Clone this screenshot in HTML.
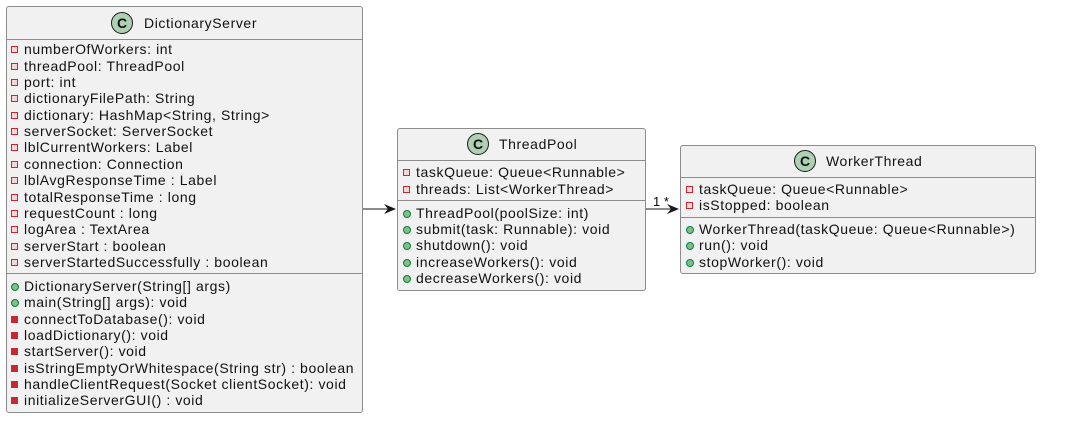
<!DOCTYPE html>
<html><head><meta charset="utf-8"><style>
body{margin:0;width:1069px;height:441px;background:#fff;position:relative;overflow:hidden;font-family:"Liberation Sans",sans-serif;color:#111}
.box{position:absolute;background:#f1f1f1;border:1px solid #8c8c8c;border-radius:3px;box-sizing:border-box}
.sep{position:absolute;left:0;right:0;height:0;border-top:1px solid #8c8c8c}
.t{position:absolute;font-size:14px;letter-spacing:0.6px;white-space:nowrap;line-height:16px}
.ti{position:absolute;font-size:14px;letter-spacing:0.6px;white-space:nowrap;line-height:18px}
.c{position:absolute;width:20px;height:20px;border-radius:50%;background:#add1b2;border:1px solid #181818;font-weight:bold;font-size:14px;line-height:20px;text-align:center}
.pa{position:absolute;width:5px;height:5px;border:1px solid #c82930;background:#f3d6d7}
.pm{position:absolute;width:7px;height:7px;background:#c82930}
.pu{position:absolute;width:6px;height:6px;border-radius:50%;background:#84be84;border:1px solid #038048}
</style></head><body>

<div class="box" style="left:6px;top:6px;width:357px;height:407px">
<div class="c" style="left:104px;top:5px">C</div>
<div class="ti" style="left:137px;top:7px">DictionaryServer</div>
<div class="sep" style="top:32px"></div>
<div class="sep" style="top:266px"></div>
</div>

<div class="box" style="left:397px;top:128px;width:249px;height:163px">
<div class="c" style="left:69px;top:4px">C</div>
<div class="ti" style="left:101px;top:6px">ThreadPool</div>
<div class="sep" style="top:31px"></div>
<div class="sep" style="top:71px"></div>
</div>

<div class="box" style="left:680px;top:145px;width:356px;height:129px">
<div class="c" style="left:113px;top:4px">C</div>
<div class="ti" style="left:145px;top:6px">WorkerThread</div>
<div class="sep" style="top:31px"></div>
<div class="sep" style="top:71px"></div>
</div>

<svg style="position:absolute;left:0;top:0" width="1069" height="441">
<line x1="363" y1="209" x2="394" y2="209" stroke="#181818" stroke-width="1"/>
<path d="M384,204 L396,209 L384,214 L388,209 Z" fill="#181818"/>
<line x1="646" y1="209" x2="677" y2="209" stroke="#181818" stroke-width="1"/>
<path d="M667,204 L679,209 L667,214 L671,209 Z" fill="#181818"/>
<text x="653" y="206" font-family="Liberation Sans" font-size="13">1 *</text>
</svg>

<div class="pa" style="left:11px;top:46px"></div><div class="t" style="left:24px;top:41px">numberOfWorkers: int</div>
<div class="pa" style="left:11px;top:63px"></div><div class="t" style="left:24px;top:58px">threadPool: ThreadPool</div>
<div class="pa" style="left:11px;top:79px"></div><div class="t" style="left:24px;top:74px">port: int</div>
<div class="pa" style="left:11px;top:95px"></div><div class="t" style="left:24px;top:90px">dictionaryFilePath: String</div>
<div class="pa" style="left:11px;top:112px"></div><div class="t" style="left:24px;top:107px">dictionary: HashMap&lt;String, String&gt;</div>
<div class="pa" style="left:11px;top:128px"></div><div class="t" style="left:24px;top:123px">serverSocket: ServerSocket</div>
<div class="pa" style="left:11px;top:144px"></div><div class="t" style="left:24px;top:139px">lblCurrentWorkers: Label</div>
<div class="pa" style="left:11px;top:161px"></div><div class="t" style="left:24px;top:156px">connection: Connection</div>
<div class="pa" style="left:11px;top:177px"></div><div class="t" style="left:24px;top:172px">lblAvgResponseTime : Label</div>
<div class="pa" style="left:11px;top:194px"></div><div class="t" style="left:24px;top:189px">totalResponseTime : long</div>
<div class="pa" style="left:11px;top:210px"></div><div class="t" style="left:24px;top:205px">requestCount : long</div>
<div class="pa" style="left:11px;top:226px"></div><div class="t" style="left:24px;top:221px">logArea : TextArea</div>
<div class="pa" style="left:11px;top:243px"></div><div class="t" style="left:24px;top:238px">serverStart : boolean</div>
<div class="pa" style="left:11px;top:259px"></div><div class="t" style="left:24px;top:254px">serverStartedSuccessfully : boolean</div>
<div class="pu" style="left:11px;top:283px"></div><div class="t" style="left:24px;top:278px">DictionaryServer(String[] args)</div>
<div class="pu" style="left:11px;top:299px"></div><div class="t" style="left:24px;top:294px">main(String[] args): void</div>
<div class="pm" style="left:11px;top:316px"></div><div class="t" style="left:24px;top:311px">connectToDatabase(): void</div>
<div class="pm" style="left:11px;top:332px"></div><div class="t" style="left:24px;top:327px">loadDictionary(): void</div>
<div class="pm" style="left:11px;top:348px"></div><div class="t" style="left:24px;top:343px">startServer(): void</div>
<div class="pm" style="left:11px;top:365px"></div><div class="t" style="left:24px;top:360px">isStringEmptyOrWhitespace(String str) : boolean</div>
<div class="pm" style="left:11px;top:381px"></div><div class="t" style="left:24px;top:376px">handleClientRequest(Socket clientSocket): void</div>
<div class="pm" style="left:11px;top:397px"></div><div class="t" style="left:24px;top:392px">initializeServerGUI() : void</div>

<div class="pa" style="left:403px;top:169px"></div><div class="t" style="left:416px;top:164px">taskQueue: Queue&lt;Runnable&gt;</div>
<div class="pa" style="left:403px;top:186px"></div><div class="t" style="left:416px;top:181px">threads: List&lt;WorkerThread&gt;</div>
<div class="pu" style="left:403px;top:210px"></div><div class="t" style="left:416px;top:205px">ThreadPool(poolSize: int)</div>
<div class="pu" style="left:403px;top:226px"></div><div class="t" style="left:416px;top:221px">submit(task: Runnable): void</div>
<div class="pu" style="left:403px;top:242px"></div><div class="t" style="left:416px;top:237px">shutdown(): void</div>
<div class="pu" style="left:403px;top:259px"></div><div class="t" style="left:416px;top:254px">increaseWorkers(): void</div>
<div class="pu" style="left:403px;top:275px"></div><div class="t" style="left:416px;top:270px">decreaseWorkers(): void</div>

<div class="pa" style="left:686px;top:186px"></div><div class="t" style="left:699px;top:181px">taskQueue: Queue&lt;Runnable&gt;</div>
<div class="pa" style="left:686px;top:202px"></div><div class="t" style="left:699px;top:197px">isStopped: boolean</div>
<div class="pu" style="left:686px;top:226px"></div><div class="t" style="left:699px;top:221px">WorkerThread(taskQueue: Queue&lt;Runnable&gt;)</div>
<div class="pu" style="left:686px;top:242px"></div><div class="t" style="left:699px;top:237px">run(): void</div>
<div class="pu" style="left:686px;top:259px"></div><div class="t" style="left:699px;top:254px">stopWorker(): void</div>
</body></html>
